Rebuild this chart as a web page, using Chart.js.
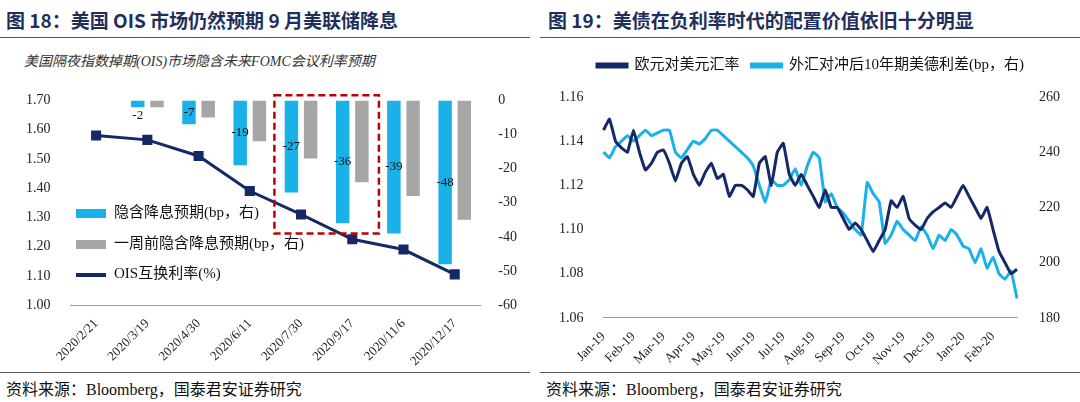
<!DOCTYPE html>
<html><head><meta charset="utf-8">
<script src="https://cdn.jsdelivr.net/npm/chart.js@4"></script>
<style>
body{margin:0;width:1080px;height:402px;background:#fff;font-family:"Liberation Serif","Noto Sans CJK SC",serif;position:relative;overflow:hidden}
.t{position:absolute;top:6px;font-size:19px;font-weight:bold;color:#1f2f5c;font-family:"Noto Sans CJK SC",sans-serif}
.hl{position:absolute;top:37px;height:1px;background:#555}
.src{position:absolute;top:376px;font-size:16px;color:#111;font-family:"Liberation Serif","Noto Sans CJK SC",serif}
.sub{position:absolute;left:24px;top:50px;font-size:14px;font-style:italic;color:#333;font-family:"Liberation Serif","Noto Sans CJK SC",serif}
.lg{position:absolute;left:76px;font-size:15px;color:#111}
.sw{display:inline-block;width:30px;height:9px;vertical-align:middle;margin-right:8px}
</style></head><body>
<div class="t" style="left:6px">图 18：美国 OIS 市场仍然预期 9 月美联储降息</div>
<div class="t" style="left:548px">图 19：美债在负利率时代的配置价值依旧十分明显</div>
<div class="hl" style="left:0;width:530px"></div>
<div class="hl" style="left:540px;width:540px"></div>
<div class="hl" style="left:0;width:530px;top:372px"></div>
<div class="hl" style="left:540px;width:540px;top:372px"></div>
<div class="src" style="left:6px">资料来源：Bloomberg，国泰君安证券研究</div>
<div class="src" style="left:546px">资料来源：Bloomberg，国泰君安证券研究</div>
<div class="sub">美国隔夜指数掉期(OIS)市场隐含未来FOMC会议利率预期</div>
<div style="position:absolute;left:0;top:80px;width:535px;height:292px"><canvas id="c1"></canvas></div>
<div style="position:absolute;left:543px;top:46px;width:537px;height:326px"><canvas id="c2"></canvas></div>
<div class="lg" style="top:200px"><span class="sw" style="background:#1ab0e8"></span>隐含降息预期(bp，右)</div>
<div class="lg" style="top:231px"><span class="sw" style="background:#a6a6a6"></span>一周前隐含降息预期(bp，右)</div>
<div class="lg" style="top:261px"><span class="sw" style="background:#142966;height:4px"></span>OIS互换利率(%)</div>
<script>
const dates = ['2020/2/21','2020/3/19','2020/4/30','2020/6/11','2020/7/30','2020/9/17','2020/11/6','2020/12/17'];
const oisRate = [1.58,1.565,1.51,1.39,1.31,1.225,1.19,1.105];
const impliedCut = [null,-2,-7,-19,-27,-36,-39,-48];
const impliedCutPrev = [null,-2,-5,-12,-17,-24,-28,-35];

const months = ['Jan-19','Feb-19','Mar-19','Apr-19','May-19','Jun-19','Jul-19','Aug-19','Sep-19','Oct-19','Nov-19','Dec-19','Jan-20','Feb-20'];
const eurusd = [1.145,1.15,1.14,1.137,1.135, 1.145,1.135,1.127,1.13,1.135, 1.136,1.13,1.122,1.13,1.133,
 1.125,1.12,1.126,1.13,1.123, 1.125,1.115,1.12,1.12,1.118, 1.115,1.13,1.133,1.12,1.135,
 1.139,1.125,1.12,1.125,1.12, 1.115,1.11,1.118,1.11,1.11, 1.105,1.1,1.103,1.1,1.095,
 1.09,1.095,1.1,1.113,1.11, 1.115,1.105,1.102,1.1,1.105, 1.108,1.11,1.112,1.11,1.115,
 1.12,1.115,1.11,1.105,1.11, 1.1,1.09,1.085,1.08,1.082];
const spread = [240,238,242,244,246, 244,246,248,246,247, 248,248,240,238,241,
 244,243,245,248,248, 246,244,242,240,238, 235,228,222,230,228,
 228,230,234,228,235, 240,238,222,225,220, 218,215,212,210,229,
 225,222,207,210,215, 212,210,208,213,210, 205,210,208,212,210,
 206,205,200,205,198, 202,196,194,197,187];

const serif = '"Liberation Serif","Noto Sans CJK SC",serif';
Chart.defaults.font.family = serif;
Chart.defaults.color = '#222';

const extras = {
  id:'extras',
  afterDatasetsDraw(chart){
    const ctx = chart.ctx, x = chart.scales.x, y = chart.scales.y1;
    const meta = chart.getDatasetMeta(0);
    ctx.save();
    ctx.font = '13px '+serif; ctx.fillStyle='#111'; ctx.textAlign='center'; ctx.textBaseline='middle';
    impliedCut.forEach((v,i)=>{
      if(v===null) return;
      const bx = meta.data[i].x;
      const yy = v===-2 ? y.getPixelForValue(-4.5) : y.getPixelForValue(v/2);
      ctx.fillText(String(v), bx, yy);
    });
    const step = x.getPixelForValue(1)-x.getPixelForValue(0);
    const l = x.getPixelForValue(4)-step*0.52, r = x.getPixelForValue(5)+step*0.52;
    ctx.strokeStyle='#c00000'; ctx.lineWidth=2.5; ctx.setLineDash([7,4]);
    ctx.strokeRect(l, y.getPixelForValue(1.5), r-l, y.getPixelForValue(-39)-y.getPixelForValue(1.5));
    ctx.restore();
  }
};

new Chart(document.getElementById('c1'), {
  data:{labels:dates,datasets:[
    {type:'bar',data:impliedCut,backgroundColor:'#1ab0e8',yAxisID:'y1',order:2,barPercentage:0.7,categoryPercentage:0.75},
    {type:'bar',data:impliedCutPrev,backgroundColor:'#a6a6a6',yAxisID:'y1',order:2,barPercentage:0.7,categoryPercentage:0.75},
    {type:'line',data:oisRate,borderColor:'#142966',backgroundColor:'#142966',borderWidth:3,pointStyle:'rect',pointRadius:5,yAxisID:'y',order:1}
  ]},
  options:{responsive:true,maintainAspectRatio:false,animation:false,
    layout:{padding:{left:14,right:8,top:0}},
    plugins:{legend:{display:false},tooltip:{enabled:false}},
    scales:{
      x:{grid:{display:false},border:{color:'#999'},ticks:{maxRotation:45,minRotation:45,font:{size:13}}},
      y:{min:1.0,max:1.7,ticks:{stepSize:0.1,padding:12,callback:v=>v.toFixed(2),font:{size:14}},grid:{display:false},border:{display:false}},
      y1:{position:'right',min:-60,max:0,ticks:{stepSize:10,padding:10,font:{size:14}},grid:{display:false},border:{display:false}}
    }},
  plugins:[extras]
});

const wkLabels = eurusd.map((_,i)=> i%5===0 ? months[i/5] : '');
new Chart(document.getElementById('c2'), {
  type:'line',
  data:{labels:wkLabels,datasets:[
    {label:'欧元对美元汇率',data:eurusd,borderColor:'#142966',borderWidth:3,pointRadius:0,tension:0.1,yAxisID:'y'},
    {label:'外汇对冲后10年期美德利差(bp，右)',data:spread,borderColor:'#1ab0e8',borderWidth:3,pointRadius:0,tension:0.1,yAxisID:'y1'}
  ]},
  options:{responsive:true,maintainAspectRatio:false,animation:false,
    layout:{padding:{right:6,left:4}},
    plugins:{tooltip:{enabled:false},legend:{position:'top',labels:{boxWidth:30,boxHeight:3,padding:12,font:{size:15},color:'#111'}}},
    scales:{
      x:{grid:{display:false},border:{color:'#999'},ticks:{autoSkip:false,maxRotation:45,minRotation:45,font:{size:13},callback:function(v){return wkLabels[v];}}},
      y:{min:1.06,max:1.16,ticks:{stepSize:0.02,padding:12,callback:v=>v.toFixed(2),font:{size:14}},grid:{display:false},border:{display:false}},
      y1:{position:'right',min:180,max:260,ticks:{stepSize:20,padding:14,font:{size:14}},grid:{display:false},border:{display:false}}
    }},
  plugins:[{id:'lgpad',beforeInit(c){const f=c.legend.fit;c.legend.fit=function(){f.bind(c.legend)();this.height+=14;};}}]
});
</script>
</body></html>
